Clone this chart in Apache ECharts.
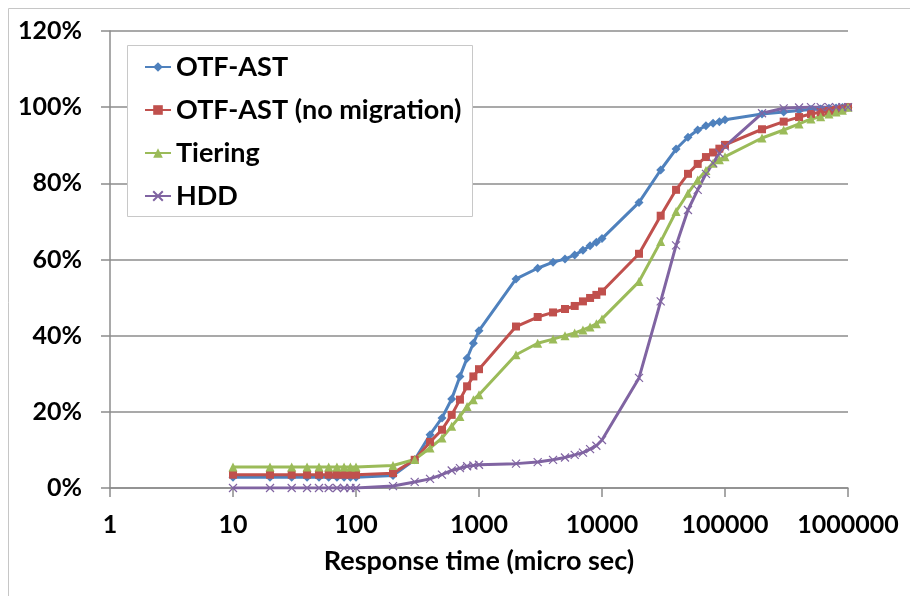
<!DOCTYPE html>
<html>
<head>
<meta charset="utf-8">
<script src="https://cdn.jsdelivr.net/npm/echarts@6/dist/echarts.min.js"></script>
<style>
html,body{margin:0;padding:0;background:#fff;}
#c{width:910px;height:596px;}
</style>
</head>
<body>
<div id="c"></div>
<script>
var responseTimes = [10,20,30,40,50,60,70,80,90,100,
  200,300,400,500,600,700,800,900,1000,
  2000,3000,4000,5000,6000,7000,8000,9000,10000,
  20000,30000,40000,50000,60000,70000,80000,90000,100000,
  200000,300000,400000,500000,600000,700000,800000,900000,1000000];

var otfAst = [2.8,2.8,2.8,2.8,2.8,2.8,2.8,2.8,2.8,2.8,
  3.3,7.4,14.0,18.4,23.4,29.3,34.1,38.0,41.3,
  54.9,57.7,59.3,60.1,61.2,62.4,63.6,64.5,65.5,
  75.0,83.5,89.0,92.1,94.0,95.1,95.8,96.2,96.7,
  98.2,98.7,99.1,99.4,99.5,99.7,99.8,99.9,100];

var otfAstNoMig = [3.5,3.5,3.5,3.5,3.5,3.5,3.5,3.5,3.5,3.5,
  3.9,7.4,12.1,15.3,19.2,23.2,26.7,29.3,31.2,
  42.4,44.9,46.1,47.0,47.8,49.0,49.9,50.7,51.6,
  61.5,71.5,78.3,82.5,85.1,86.9,88.1,89.1,90.1,
  94.2,96.2,97.4,98.2,98.7,99.0,99.3,99.6,100];

var tiering = [5.5,5.5,5.5,5.5,5.5,5.5,5.5,5.5,5.5,5.5,
  5.9,7.5,10.5,13.1,16.2,18.8,21.4,23.2,24.5,
  35.0,38.0,39.1,40.0,40.7,41.5,42.3,43.1,44.4,
  54.2,64.7,72.6,77.4,80.9,83.4,85.3,86.2,87.0,
  91.9,94.0,95.6,96.9,97.5,98.2,98.7,99.2,100];

var hdd = [0,0,0,0,0,0,0,0,0,0,
  0.5,1.6,2.4,3.5,4.6,5.2,5.7,5.9,6.1,
  6.4,6.8,7.4,8.0,8.7,9.3,10.2,11.1,12.6,
  28.9,49.0,63.7,73.0,78.3,82.5,85.3,87.9,89.7,
  98.4,99.7,99.9,100,100,100,100,100,100];

var seriesNames = ['OTF-AST','OTF-AST (no migration)','Tiering','HDD'];
var xTickLabels = ['1','10','100','1000','10000','100000','1000000'];
var yTickLabels = ['0%','20%','40%','60%','80%','100%','120%'];
var xAxisTitle = 'Response time (micro sec)';

function pairs(vals){ return responseTimes.map(function(x,i){ return [x, vals[i]]; }); }

var FONT = 'Lato';
var chart = echarts.init(document.getElementById('c'), null, {renderer:'canvas'});
var mk = function(name, vals, color, symbol, size, extra){
  var s = {
    name: name, type: 'line', data: pairs(vals),
    symbol: symbol, symbolSize: size, showSymbol: true,
    lineStyle: {color: color, width: 3},
    itemStyle: {color: color},
    emphasis: {disabled: true},
    animation: false
  };
  if (extra) { for (var k in extra) s[k] = extra[k]; }
  return s;
};

chart.setOption({
  backgroundColor: '#ffffff',
  animation: false,
  textStyle: {fontFamily: FONT},
  graphic: [
    {type:'rect', shape:{x:8.5,y:8.5,width:1000,height:1000}, style:{fill:'none', stroke:'#c6c6c6', lineWidth:1}, z:-10},
    {type:'rect', shape:{x:127.5,y:45.5,width:345,height:171}, style:{fill:'#ffffff', stroke:'#c8c8c8', lineWidth:1}, z:50}
  ],
  grid: {left:110, right:62, top:31, bottom:108, containLabel:false},
  legend: {
    orient:'vertical', left:144, top:52, padding:0,
    itemWidth:26, itemHeight:12, itemGap:13, z:60,
    selectedMode:false,
    textStyle:{fontFamily:FONT, fontWeight:'bold', fontSize:27, color:'#000', lineHeight:30},
    data: seriesNames
  },
  xAxis: {
    type:'log', logBase:10, min:1, max:1000000,
    axisLine:{show:true, lineStyle:{color:'#8c8c8c', width:1.5}},
    axisTick:{show:true, inside:false, length:9, lineStyle:{color:'#8c8c8c', width:1.5}},
    minorTick:{show:false},
    splitLine:{show:false},
    axisLabel:{margin:24, fontFamily:FONT, fontWeight:'bold', fontSize:25, color:'#000',
      formatter:function(v){ var i = Math.round(Math.log10(v)); return xTickLabels[i] !== undefined ? xTickLabels[i] : ''; }},
    name: xAxisTitle, nameLocation:'middle', nameGap:60,
    nameTextStyle:{fontFamily:FONT, fontWeight:'bold', fontSize:27, color:'#000'}
  },
  yAxis: {
    type:'value', min:0, max:120, interval:20,
    axisLine:{show:true, lineStyle:{color:'#8c8c8c', width:1.5}},
    axisTick:{show:true, inside:false, length:9, lineStyle:{color:'#8c8c8c', width:1.5}},
    splitLine:{show:true, lineStyle:{color:'#8c8c8c', width:1.5}},
    axisLabel:{margin:28, fontFamily:FONT, fontWeight:'bold', fontSize:25, color:'#000',
      formatter:function(v){ return yTickLabels[Math.round(v/20)]; }}
  },
  series: [
    mk(seriesNames[0], otfAst, '#4F81BD', 'diamond', 9),
    mk(seriesNames[1], otfAstNoMig, '#C0504D', 'rect', 8),
    mk(seriesNames[2], tiering, '#9BBB59', 'triangle', 9),
    mk(seriesNames[3], hdd, '#8064A2', 'path://M0,0L10,10M10,0L0,10', 8,
      {itemStyle:{color:'#8064A2', borderColor:'#8064A2', borderWidth:1.2}})
  ]
});
</script>
</body>
</html>
